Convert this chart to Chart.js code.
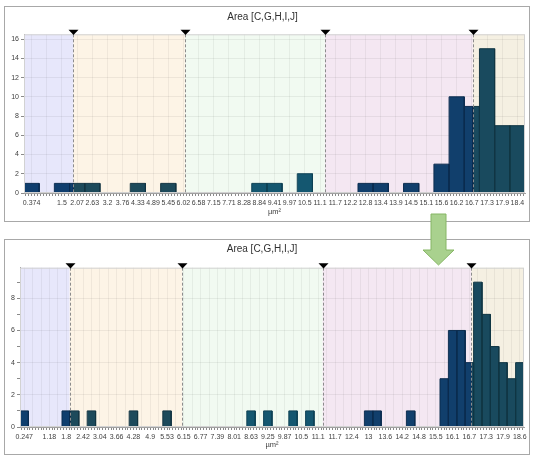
<!DOCTYPE html>
<html lang="en">
<head>
<meta charset="UTF-8">
<title>Area [C,G,H,I,J]</title>
<script src="https://cdn.jsdelivr.net/npm/chart.js"></script>
<style>
body{margin:0;background:#fff;width:534px;height:458px;position:relative;overflow:hidden;font-family:'Liberation Sans',sans-serif}
.panel{position:absolute;left:4px;width:526px;height:216px;border:1px solid #a8a8a8;box-sizing:border-box}
#panelTop{top:6px}
#panelBottom{top:239px}
canvas{position:absolute;left:0}
#chartTop{top:0}
#chartBottom{top:232px}
#arrow{position:absolute;left:0;top:0;pointer-events:none}
</style>
</head>
<body>
<div class="panel" id="panelTop"></div>
<div class="panel" id="panelBottom"></div>
<canvas id="chartTop" width="534" height="222"></canvas>
<canvas id="chartBottom" width="534" height="226"></canvas>
<svg id="arrow" width="534" height="458"><polygon points="431,214 446,214 446,250 454,250 438.5,265 423,250 431,250" fill="#a9d18e" stroke="#86b665" stroke-width="1"/></svg>
<script>
// class limits (µm²) shared by both histograms
const classLimits = [1.93, 6.09, 11.28, 16.78];

// top histogram: 33 bins
const topMin = 0.092;
const topBinWidth = 0.5645;
const topCounts = [1,0,1,1,1,0,0,1,0,1,0,0,0,0,0,1,1,0,2,0,0,0,1,1,0,1,0,3,10,9,15,7,7];
const topLabels = ['0.374','','1.5','2.07','2.63','3.2','3.76','4.33','4.89','5.45','6.02','6.58','7.15','7.71','8.28','8.84','9.41','9.97','10.5','11.1','11.7','12.2','12.8','13.4','13.9','14.5','15.1','15.6','16.2','16.7','17.3','17.9','18.4'];
const topYMax = 16.5;

// bottom histogram: 60 bins
const bottomMin = 0.092;
const bottomBinWidth = 0.3105;
const bottomCounts = [1,0,0,0,0,1,1,0,1,0, 0,0,0,1,0,0,0,1,0,0, 0,0,0,0,0,0,0,1,0,1, 0,0,1,0,1,0,0,0,0,0, 0,1,1,0,0,0,1,0,0,0, 3,6,6,4,9,7,5,4,3,4];
const bottomLabels = ['0.247','','','1.18','','1.8','','2.42','','3.04','','3.66','','4.28','','4.9','','5.53','','6.15','','6.77','','7.39','','8.01','','8.63','','9.25','','9.87','','10.5','','11.1','','11.7','','12.4','','13','','13.6','','14.2','','14.8','','15.5','','16.1','','16.7','','17.3','','17.9','','18.6'];
const bottomYMax = 9.9;

const bandColors = ['#e7e7fb','#fdf4e6','#f1faf1','#f4e7f2','#f5f0e2'];
const barColors = ['#0f3e6e','#1d4a5b','#145770','#113f6c','#194a5e'];
const barEdges = ['#0a2c50','#123442','#0d4054','#0b2c4f','#103644'];

Chart.defaults.font.family = "'Liberation Sans', Arial, sans-serif";
Chart.defaults.color = '#404040';

// one filled outline per class, each bin clipped at the class limits
function classDatasets(counts, xMin, binW) {
    const xMax = xMin + counts.length * binW;
    const bounds = [xMin, ...classLimits, xMax];
    return barColors.map((color, c) => {
        const lo = bounds[c], hi = bounds[c + 1];
        const pts = [];
        counts.forEach((n, k) => {
            if (!n) return;
            const l = Math.max(xMin + k * binW, lo);
            const r = Math.min(xMin + (k + 1) * binW, hi);
            if (r <= l) return;
            pts.push({x: l, y: 0}, {x: l, y: n}, {x: r, y: n}, {x: r, y: 0}, {x: r, y: null});
        });
        return {type: 'line', data: pts, backgroundColor: color, borderColor: barEdges[c], borderWidth: 1,
            fill: 'origin', pointRadius: 0, tension: 0, spanGaps: false};
    });
}

const zonesPlugin = {
    id: 'zones',
    beforeDraw(chart) {
        const {ctx, chartArea: a, scales: {x}} = chart;
        const bounds = [x.min, ...classLimits, x.max];
        ctx.save();
        bandColors.forEach((col, i) => {
            const l = x.getPixelForValue(bounds[i]);
            const r = x.getPixelForValue(bounds[i + 1]);
            ctx.fillStyle = col;
            ctx.fillRect(l, a.top, r - l, a.bottom - a.top);
        });
        ctx.restore();
    },
    afterDatasetsDraw(chart) {
        const {ctx, chartArea: a, scales: {x}} = chart;
        ctx.save();
        ctx.strokeStyle = '#d2d2d2';
        ctx.lineWidth = 1;
        ctx.strokeRect(a.left + 0.5, a.top + 0.5, a.right - a.left - 1, a.bottom - a.top - 1);
        classLimits.forEach(v => {
            const px = Math.round(x.getPixelForValue(v)) + 0.5;
            ctx.strokeStyle = '#8c8c8c';
            ctx.setLineDash([3, 2]);
            ctx.beginPath();
            ctx.moveTo(px, a.top);
            ctx.lineTo(px, a.bottom);
            ctx.stroke();
            ctx.setLineDash([]);
            ctx.fillStyle = '#000';
            ctx.beginPath();
            ctx.moveTo(px - 5, a.top - 4.5);
            ctx.lineTo(px + 5, a.top - 4.5);
            ctx.lineTo(px, a.top + 0.8);
            ctx.closePath();
            ctx.fill();
        });
        ctx.restore();
    }
};

function makeChart(id, opt) {
    const xMax = opt.xMin + opt.counts.length * opt.binW;
    return new Chart(document.getElementById(id), {
        type: 'line',
        data: {datasets: classDatasets(opt.counts, opt.xMin, opt.binW)},
        plugins: [zonesPlugin],
        options: {
            responsive: false,
            animation: false,
            layout: {autoPadding: false, padding: opt.padding},
            plugins: {
                legend: {display: false},
                tooltip: {enabled: false},
                title: {display: true, text: 'Area [C,G,H,I,J]', color: '#303030',
                    font: {size: 10, weight: 'normal'}, padding: opt.titlePadding}
            },
            scales: {
                x: {
                    type: 'linear', min: opt.xMin, max: xMax,
                    afterBuildTicks: scale => {
                        const ticks = [];
                        const c0 = opt.xMin + opt.binW / 2;
                        const step = opt.binW / opt.sub;
                        for (let i = -opt.sub; ; i++) {
                            const v = c0 + i * step;
                            if (v > xMax + 1e-9) break;
                            if (v < opt.xMin - 1e-9) continue;
                            const major = i >= 0 && i % opt.sub === 0;
                            ticks.push({value: v, sub: !major, lbl: major ? opt.labels[i / opt.sub] : ''});
                        }
                        scale.ticks = ticks;
                    },
                    afterFit: scale => { scale.height = opt.xHeight; },
                    ticks: {autoSkip: false, maxRotation: 0, minRotation: 0, padding: 3,
                        font: {size: 7}, color: '#404040',
                        callback: (v, i, ticks) => ticks[i].lbl},
                    grid: {color: c => (c.tick && c.tick.sub) ? 'rgba(0,0,0,0)' : 'rgba(0,0,0,0.05)',
                        tickColor: '#8a8a8a', tickLength: 3},
                    border: {color: '#a0a0a0'},
                    title: {display: true, text: 'µm²', font: {size: 7.5}, color: '#404040',
                        padding: {top: 0, bottom: 4.5}}
                },
                y: {
                    min: 0, max: opt.yMax,
                    afterFit: scale => { scale.width = opt.yWidth; },
                    ticks: {stepSize: 1, includeBounds: false, padding: 2, font: {size: 7}, color: '#404040',
                        callback: v => v % 2 === 0 ? v : ''},
                    grid: {color: c => (c.tick && c.tick.value % 2 === 0 && c.tick.value > 0) ? 'rgba(0,0,0,0.06)' : 'rgba(0,0,0,0)',
                        tickColor: '#8a8a8a', tickLength: 3},
                    border: {color: '#a0a0a0'}
                }
            }
        }
    });
}

makeChart('chartTop', {
    counts: topCounts, xMin: topMin, binW: topBinWidth, labels: topLabels, yMax: topYMax,
    sub: 5, xHeight: 28, yWidth: 24,
    padding: {left: 0, right: 9, top: 0, bottom: 1},
    titlePadding: {top: 11.2, bottom: 11.1}
});

makeChart('chartBottom', {
    counts: bottomCounts, xMin: bottomMin, binW: bottomBinWidth, labels: bottomLabels, yMax: bottomYMax,
    sub: 3, xHeight: 27, yWidth: 20,
    padding: {left: 0, right: 10, top: 0, bottom: 4},
    titlePadding: {top: 11.3, bottom: 12.4}
});
</script>
</body>
</html>
